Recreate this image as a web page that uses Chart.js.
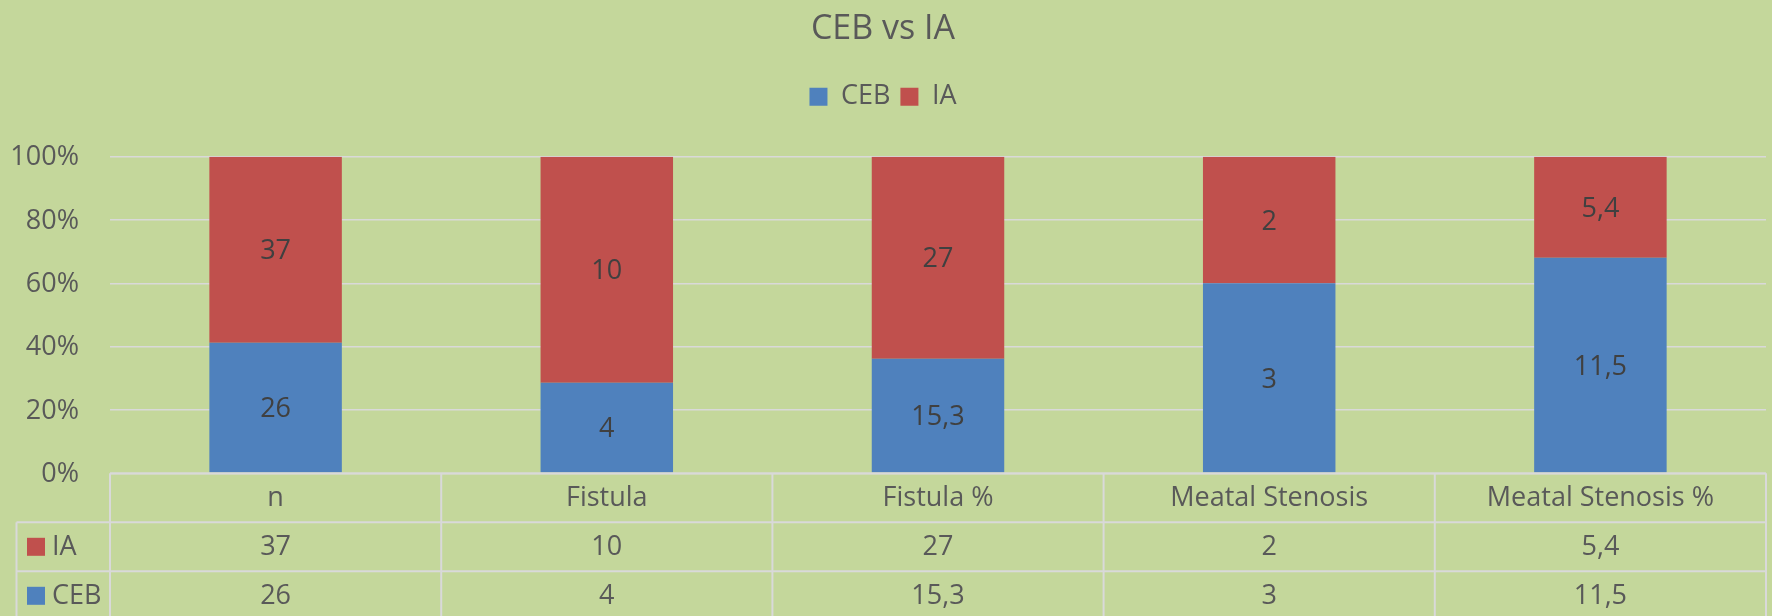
<!DOCTYPE html>
<html><head><meta charset="utf-8">
<script src="https://cdn.jsdelivr.net/npm/chart.js@4.4.1/dist/chart.umd.min.js"></script>
<style>html,body{margin:0;padding:0;background:#C4D79B;overflow:hidden}#wrap{width:1772px;height:616px;position:relative}</style>
</head><body><div id="wrap"><canvas id="c"></canvas></div>
<script>
const categories = ['n', 'Fistula', 'Fistula %', 'Meatal Stenosis', 'Meatal Stenosis %'];
const cebValues = [26, 4, 15.3, 3, 11.5];
const iaValues = [37, 10, 27, 2, 5.4];
const seriesNames = ['CEB', 'IA'];
const yTickValues = [0, 20, 40, 60, 80, 100];
const chartTitle = 'CEB vs IA';

const BG = '#C4D79B', BLUE = '#4F81BD', RED = '#C0504D';
const TXT = '#595959', LABEL = '#404040', GRID = '#D9D9D9';
const FAMILY = '"Open Sans", "Noto Sans", sans-serif';
const FS = 27;

const totals = cebValues.map((v, i) => v + iaValues[i]);
const cebPct = cebValues.map((v, i) => v / totals[i] * 100);
const iaPct = iaValues.map((v, i) => v / totals[i] * 100);
const fmt = v => String(v).replace('.', ',');

const bgPlugin = {
  id: 'bg',
  beforeDraw(chart) {
    const c = chart.ctx; c.save(); c.fillStyle = BG; c.fillRect(0, 0, chart.width, chart.height); c.restore();
  }
};

const labelPlugin = {
  id: 'barLabels',
  afterDatasetsDraw(chart) {
    const c = chart.ctx; c.save();
    c.font = FS + 'px ' + FAMILY; c.fillStyle = LABEL; c.textAlign = 'center'; c.textBaseline = 'middle';
    const raw = [cebValues, iaValues];
    chart.data.datasets.forEach((ds, di) => {
      chart.getDatasetMeta(di).data.forEach((bar, i) => {
        const p = bar.getProps(['x', 'y', 'base'], true);
        c.fillText(fmt(raw[di][i]), p.x, (p.y + p.base) / 2 + 2);
      });
    });
    c.restore();
  }
};

const tablePlugin = {
  id: 'dataTable',
  afterDraw(chart) {
    const c = chart.ctx, xs = chart.scales.x, area = chart.chartArea;
    const n = categories.length;
    const colW = (area.right - area.left) / n;
    const top = area.bottom, rowH = 49, legLeft = 16.5, bottom = chart.height;
    c.save();
    c.strokeStyle = GRID; c.lineWidth = 2;
    const line = (x1, y1, x2, y2) => { c.beginPath(); c.moveTo(x1, y1); c.lineTo(x2, y2); c.stroke(); };
    line(area.left, top, area.right, top);
    line(legLeft, top + rowH, area.right, top + rowH);
    line(legLeft, top + 2 * rowH, area.right, top + 2 * rowH);
    line(legLeft, top + rowH, legLeft, bottom);
    for (let i = 0; i < n; i++) {
      const cx = xs.getPixelForValue(i);
      line(cx - colW / 2, top, cx - colW / 2, bottom);
      if (i === n - 1) line(cx + colW / 2, top, cx + colW / 2, bottom);
    }
    c.font = FS + 'px ' + FAMILY; c.fillStyle = TXT; c.textBaseline = 'middle'; c.textAlign = 'center';
    const rows = [
      { name: seriesNames[1], color: RED, vals: iaValues },
      { name: seriesNames[0], color: BLUE, vals: cebValues }
    ];
    categories.forEach((cat, i) => c.fillText(cat, xs.getPixelForValue(i), top + rowH / 2 + 1));
    rows.forEach((r, ri) => {
      const cy = top + rowH * (ri + 1) + rowH / 2 + 1;
      r.vals.forEach((v, i) => { c.fillStyle = TXT; c.textAlign = 'center'; c.fillText(fmt(v), xs.getPixelForValue(i), cy); });
      c.fillStyle = r.color; c.fillRect(27, cy - 10, 18, 18);
      c.fillStyle = TXT; c.textAlign = 'left'; c.fillText(r.name, 52, cy);
    });
    c.restore();
  }
};

new Chart(document.getElementById('c'), {
  type: 'bar',
  data: {
    labels: categories,
    datasets: [
      { label: seriesNames[0], data: cebPct, backgroundColor: BLUE, borderWidth: 0, barPercentage: 0.4, categoryPercentage: 1 },
      { label: seriesNames[1], data: iaPct, backgroundColor: RED, borderWidth: 0, barPercentage: 0.4, categoryPercentage: 1 }
    ]
  },
  options: {
    responsive: true, maintainAspectRatio: false, animation: false, devicePixelRatio: 1,
    layout: { padding: { left: 0, right: 6, top: 0, bottom: 142.7 } },
    scales: {
      x: { stacked: true, display: false },
      y: {
        stacked: true, min: 0, max: 100,
        afterFit(scale) { scale.width = 110; },
        afterBuildTicks(scale) { scale.ticks = yTickValues.map(v => ({ value: v })); },
        ticks: { padding: 31, labelOffset: 1, color: TXT, font: { family: FAMILY, size: FS }, callback: v => v + '%' },
        grid: { color: GRID, lineWidth: 1.5, drawTicks: false },
        border: { display: false }
      }
    },
    plugins: {
      title: { display: true, text: chartTitle, color: TXT, font: { family: FAMILY, size: 34, weight: 'normal', lineHeight: 1.2 }, padding: { top: 9, bottom: 23.5 } },
      legend: { display: true, position: 'top', labels: { color: TXT, font: { family: FAMILY, size: FS }, boxWidth: 18, boxHeight: 18, padding: 10 } },
      subtitle: { display: true, text: '', weight: 500, font: { size: 1, lineHeight: 1 }, padding: { top: 0, bottom: 35.4 } },
      tooltip: { enabled: false }
    }
  },
  plugins: [bgPlugin, labelPlugin, tablePlugin]
});
</script></body></html>
